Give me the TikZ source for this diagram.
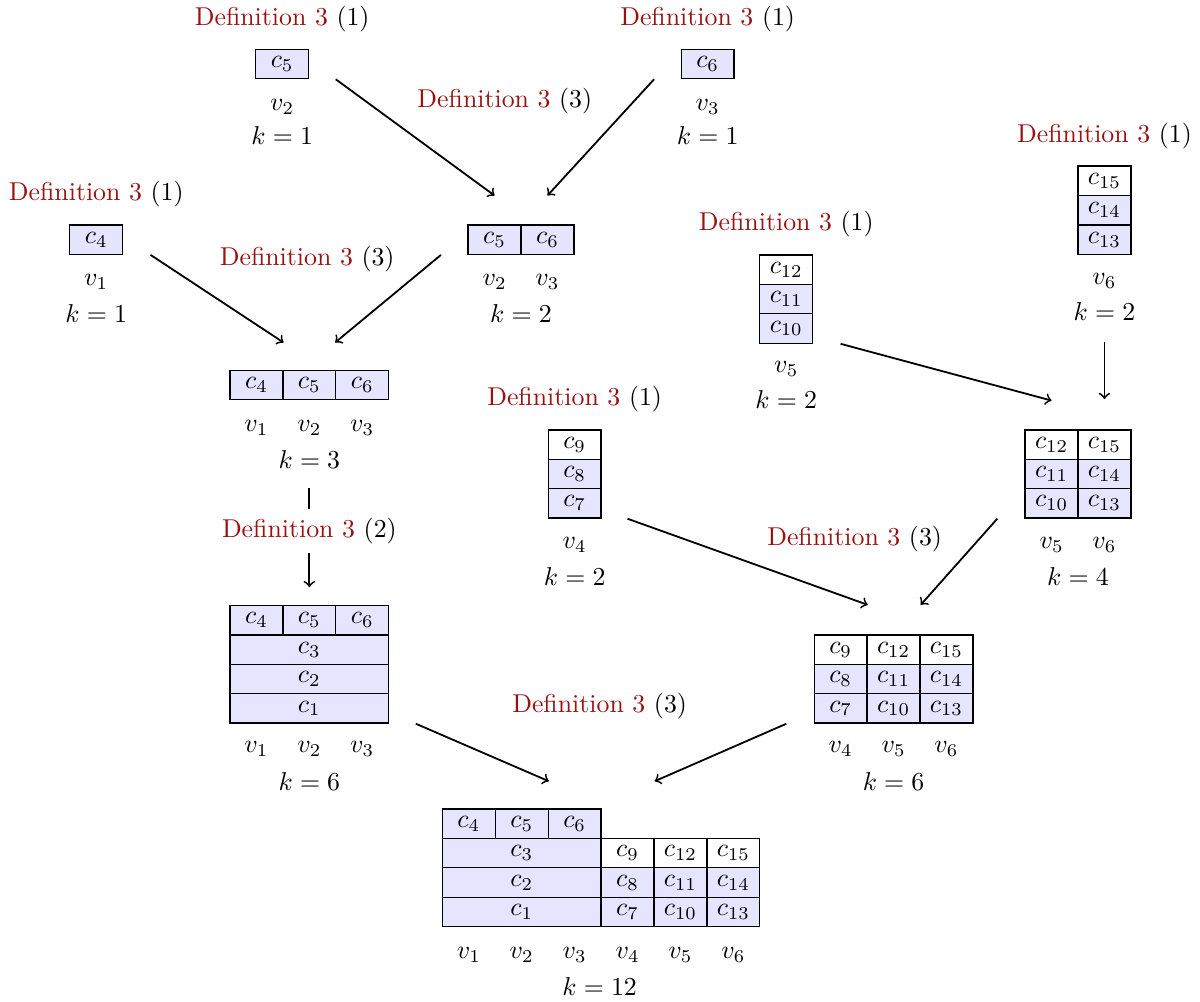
\documentclass[tikz,border=0pt]{standalone}
\usepackage{xcolor}
\usepackage{tikz}
\usetikzlibrary{shapes.geometric, arrows, positioning, calc}
\usepackage{amsmath}
\definecolor{defred}{rgb}{0.6,0.07,0.07}
\newcommand{\defref}[1]{\textcolor{defred}{Definition 3} (#1)}

\begin{document}
\begin{tikzpicture}[
    cell/.style={draw, line width=0.5pt, fill=blue!10, minimum width=0.72cm, minimum height=0.4cm, inner sep=0pt},
    topcell/.style={cell, fill=white},
    widecell/.style={cell, minimum width=2.16cm},
    arr/.style={->, line width=0.7pt}]
    \useasboundingbox (0,0) rectangle (16.33,-13.63);

    % leaves
    \node (A-def) at (3.84,-0.26) {\defref{1}};
    \node[cell] (A-5) at (3.84,-0.87) {$c_5$};
    \node (A-v) at (3.84,-1.46) {$v_2$};
    \node (A-k) at (3.84,-1.85) {$k=1$};

    \node (B-def) at (9.63,-0.26) {\defref{1}};
    \node[cell] (B-6) at (9.63,-0.87) {$c_6$};
    \node (B-v) at (9.63,-1.46) {$v_3$};
    \node (B-k) at (9.63,-1.85) {$k=1$};

    \node (D-def) at (1.31,-2.64) {\defref{1}};
    \node[cell] (D-4) at (1.31,-3.26) {$c_4$};
    \node (D-v) at (1.31,-3.84) {$v_1$};
    \node (D-k) at (1.31,-4.27) {$k=1$};

    \node (G-def) at (7.82,-5.43) {\defref{1}};
    \node[topcell] (G-9) at (7.82,-6.05) {$c_9$};
    \node[cell] (G-8) at (7.82,-6.45) {$c_8$};
    \node[cell] (G-7) at (7.82,-6.85) {$c_7$};
    \node (G-v) at (7.82,-7.41) {$v_4$};
    \node (G-k) at (7.82,-7.85) {$k=2$};

    \node (H-def) at (10.70,-3.05) {\defref{1}};
    \node[topcell] (H-12) at (10.70,-3.67) {$c_{12}$};
    \node[cell] (H-11) at (10.70,-4.07) {$c_{11}$};
    \node[cell] (H-10) at (10.70,-4.47) {$c_{10}$};
    \node (H-v) at (10.70,-5.02) {$v_5$};
    \node (H-k) at (10.70,-5.44) {$k=2$};

    \node (I-def) at (15.03,-1.85) {\defref{1}};
    \node[topcell] (I-15) at (15.03,-2.46) {$c_{15}$};
    \node[cell] (I-14) at (15.03,-2.86) {$c_{14}$};
    \node[cell] (I-13) at (15.03,-3.26) {$c_{13}$};
    \node (I-v) at (15.03,-3.82) {$v_6$};
    \node (I-k) at (15.03,-4.24) {$k=2$};

    % merged blocks
    \node (C-def) at (6.87,-1.37) {\defref{3}};
    \node[cell] (C-5) at (6.73,-3.26) {$c_5$};
    \node[cell] (C-6) at (7.45,-3.26) {$c_6$};
    \node (C-v2) at (6.73,-3.84) {$v_2$};
    \node (C-v3) at (7.45,-3.84) {$v_3$};
    \node (C-k) at (7.09,-4.27) {$k=2$};

    \node (E-def) at (4.18,-3.52) {\defref{3}};
    \node[cell] (E-4) at (3.49,-5.24) {$c_4$};
    \node[cell] (E-5) at (4.21,-5.24) {$c_5$};
    \node[cell] (E-6) at (4.93,-5.24) {$c_6$};
    \foreach \i/\x in {1/3.49, 2/4.21, 3/4.93}
        \node (E-v\i) at (\x,-5.82) {$v_\i$};
    \node (E-k) at (4.21,-6.26) {$k=3$};

    \node (F-def) at (4.21,-7.22) {\defref{2}};
    \node[cell] (F-4) at (3.49,-8.44) {$c_4$};
    \node[cell] (F-5) at (4.21,-8.44) {$c_5$};
    \node[cell] (F-6) at (4.93,-8.44) {$c_6$};
    \node[widecell] (F-3) at (4.21,-8.84) {$c_3$};
    \node[widecell] (F-2) at (4.21,-9.24) {$c_2$};
    \node[widecell] (F-1) at (4.21,-9.64) {$c_1$};
    \foreach \i/\x in {1/3.49, 2/4.21, 3/4.93}
        \node (F-v\i) at (\x,-10.19) {$v_\i$};
    \node (F-k) at (4.21,-10.63) {$k=6$};

    \node[topcell] (J-12) at (14.31,-6.05) {$c_{12}$};
    \node[topcell] (J-15) at (15.03,-6.05) {$c_{15}$};
    \node[cell] (J-11) at (14.31,-6.45) {$c_{11}$};
    \node[cell] (J-14) at (15.03,-6.45) {$c_{14}$};
    \node[cell] (J-10) at (14.31,-6.85) {$c_{10}$};
    \node[cell] (J-13) at (15.03,-6.85) {$c_{13}$};
    \node (J-v5) at (14.31,-7.41) {$v_5$};
    \node (J-v6) at (15.03,-7.41) {$v_6$};
    \node (J-k) at (14.67,-7.85) {$k=4$};

    \node (K-def) at (11.63,-7.33) {\defref{3}};
    \node[topcell] (K-9) at (11.44,-8.84) {$c_9$};
    \node[topcell] (K-12) at (12.16,-8.84) {$c_{12}$};
    \node[topcell] (K-15) at (12.88,-8.84) {$c_{15}$};
    \node[cell] (K-8) at (11.44,-9.24) {$c_8$};
    \node[cell] (K-11) at (12.16,-9.24) {$c_{11}$};
    \node[cell] (K-14) at (12.88,-9.24) {$c_{14}$};
    \node[cell] (K-7) at (11.44,-9.64) {$c_7$};
    \node[cell] (K-10) at (12.16,-9.64) {$c_{10}$};
    \node[cell] (K-13) at (12.88,-9.64) {$c_{13}$};
    \foreach \i/\x in {4/11.44, 5/12.16, 6/12.88}
        \node (K-v\i) at (\x,-10.19) {$v_\i$};
    \node (K-k) at (12.16,-10.63) {$k=6$};

    % final block
    \node (L-def) at (8.16,-9.61) {\defref{3}};
    \node[cell] (L-4) at (6.38,-11.21) {$c_4$};
    \node[cell] (L-5) at (7.10,-11.21) {$c_5$};
    \node[cell] (L-6) at (7.82,-11.21) {$c_6$};
    \node[widecell] (L-3) at (7.10,-11.61) {$c_3$};
    \node[widecell] (L-2) at (7.10,-12.01) {$c_2$};
    \node[widecell] (L-1) at (7.10,-12.41) {$c_1$};
    \node[topcell] (L-9) at (8.54,-11.61) {$c_9$};
    \node[topcell] (L-12) at (9.26,-11.61) {$c_{12}$};
    \node[topcell] (L-15) at (9.98,-11.61) {$c_{15}$};
    \node[cell] (L-8) at (8.54,-12.01) {$c_8$};
    \node[cell] (L-11) at (9.26,-12.01) {$c_{11}$};
    \node[cell] (L-14) at (9.98,-12.01) {$c_{14}$};
    \node[cell] (L-7) at (8.54,-12.41) {$c_7$};
    \node[cell] (L-10) at (9.26,-12.41) {$c_{10}$};
    \node[cell] (L-13) at (9.98,-12.41) {$c_{13}$};
    \foreach \i/\x in {1/6.38, 2/7.10, 3/7.82, 4/8.54, 5/9.26, 6/9.98}
        \node (L-v\i) at (\x,-12.99) {$v_\i$};
    \node (L-k) at (8.16,-13.43) {$k=12$};

    % arrows
    \draw[arr] ([xshift=0.36cm]A-5.south east) -- ([yshift=0.39cm]C-5.north);
    \draw[arr] ([xshift=-0.36cm]B-6.south west) -- ([yshift=0.39cm]C-6.north);
    \draw[arr] ([xshift=0.37cm]D-4.south east) -- ([yshift=0.37cm]E-4.north east);
    \draw[arr] ([xshift=-0.36cm]C-5.south west) -- ([yshift=0.37cm]E-6.north west);
    \draw[line width=0.7pt] ([yshift=-0.14cm]E-k.south) -- (F-def);
    \draw[arr] (F-def) -- ([yshift=0.24cm]F-5.north);
    \draw[arr] ([xshift=0.37cm]H-10.south east) -- ([yshift=0.39cm]J-12.north);
    \draw[arr] ([yshift=-0.17cm]I-k.south) -- ([yshift=0.41cm]J-15.north);
    \draw[arr] ([xshift=0.35cm]G-7.south east) -- ([yshift=0.4cm]K-9.north east);
    \draw[arr] ([xshift=-0.37cm]J-10.south west) -- ([yshift=0.4cm]K-12.north east);
    \draw[arr] ([xshift=0.36cm]F-1.south east) -- ([yshift=0.37cm]L-5.north east);
    \draw[arr] ([xshift=-0.37cm]K-7.south west) -- ([yshift=0.77cm]L-9.north east);
\end{tikzpicture}
\end{document}
